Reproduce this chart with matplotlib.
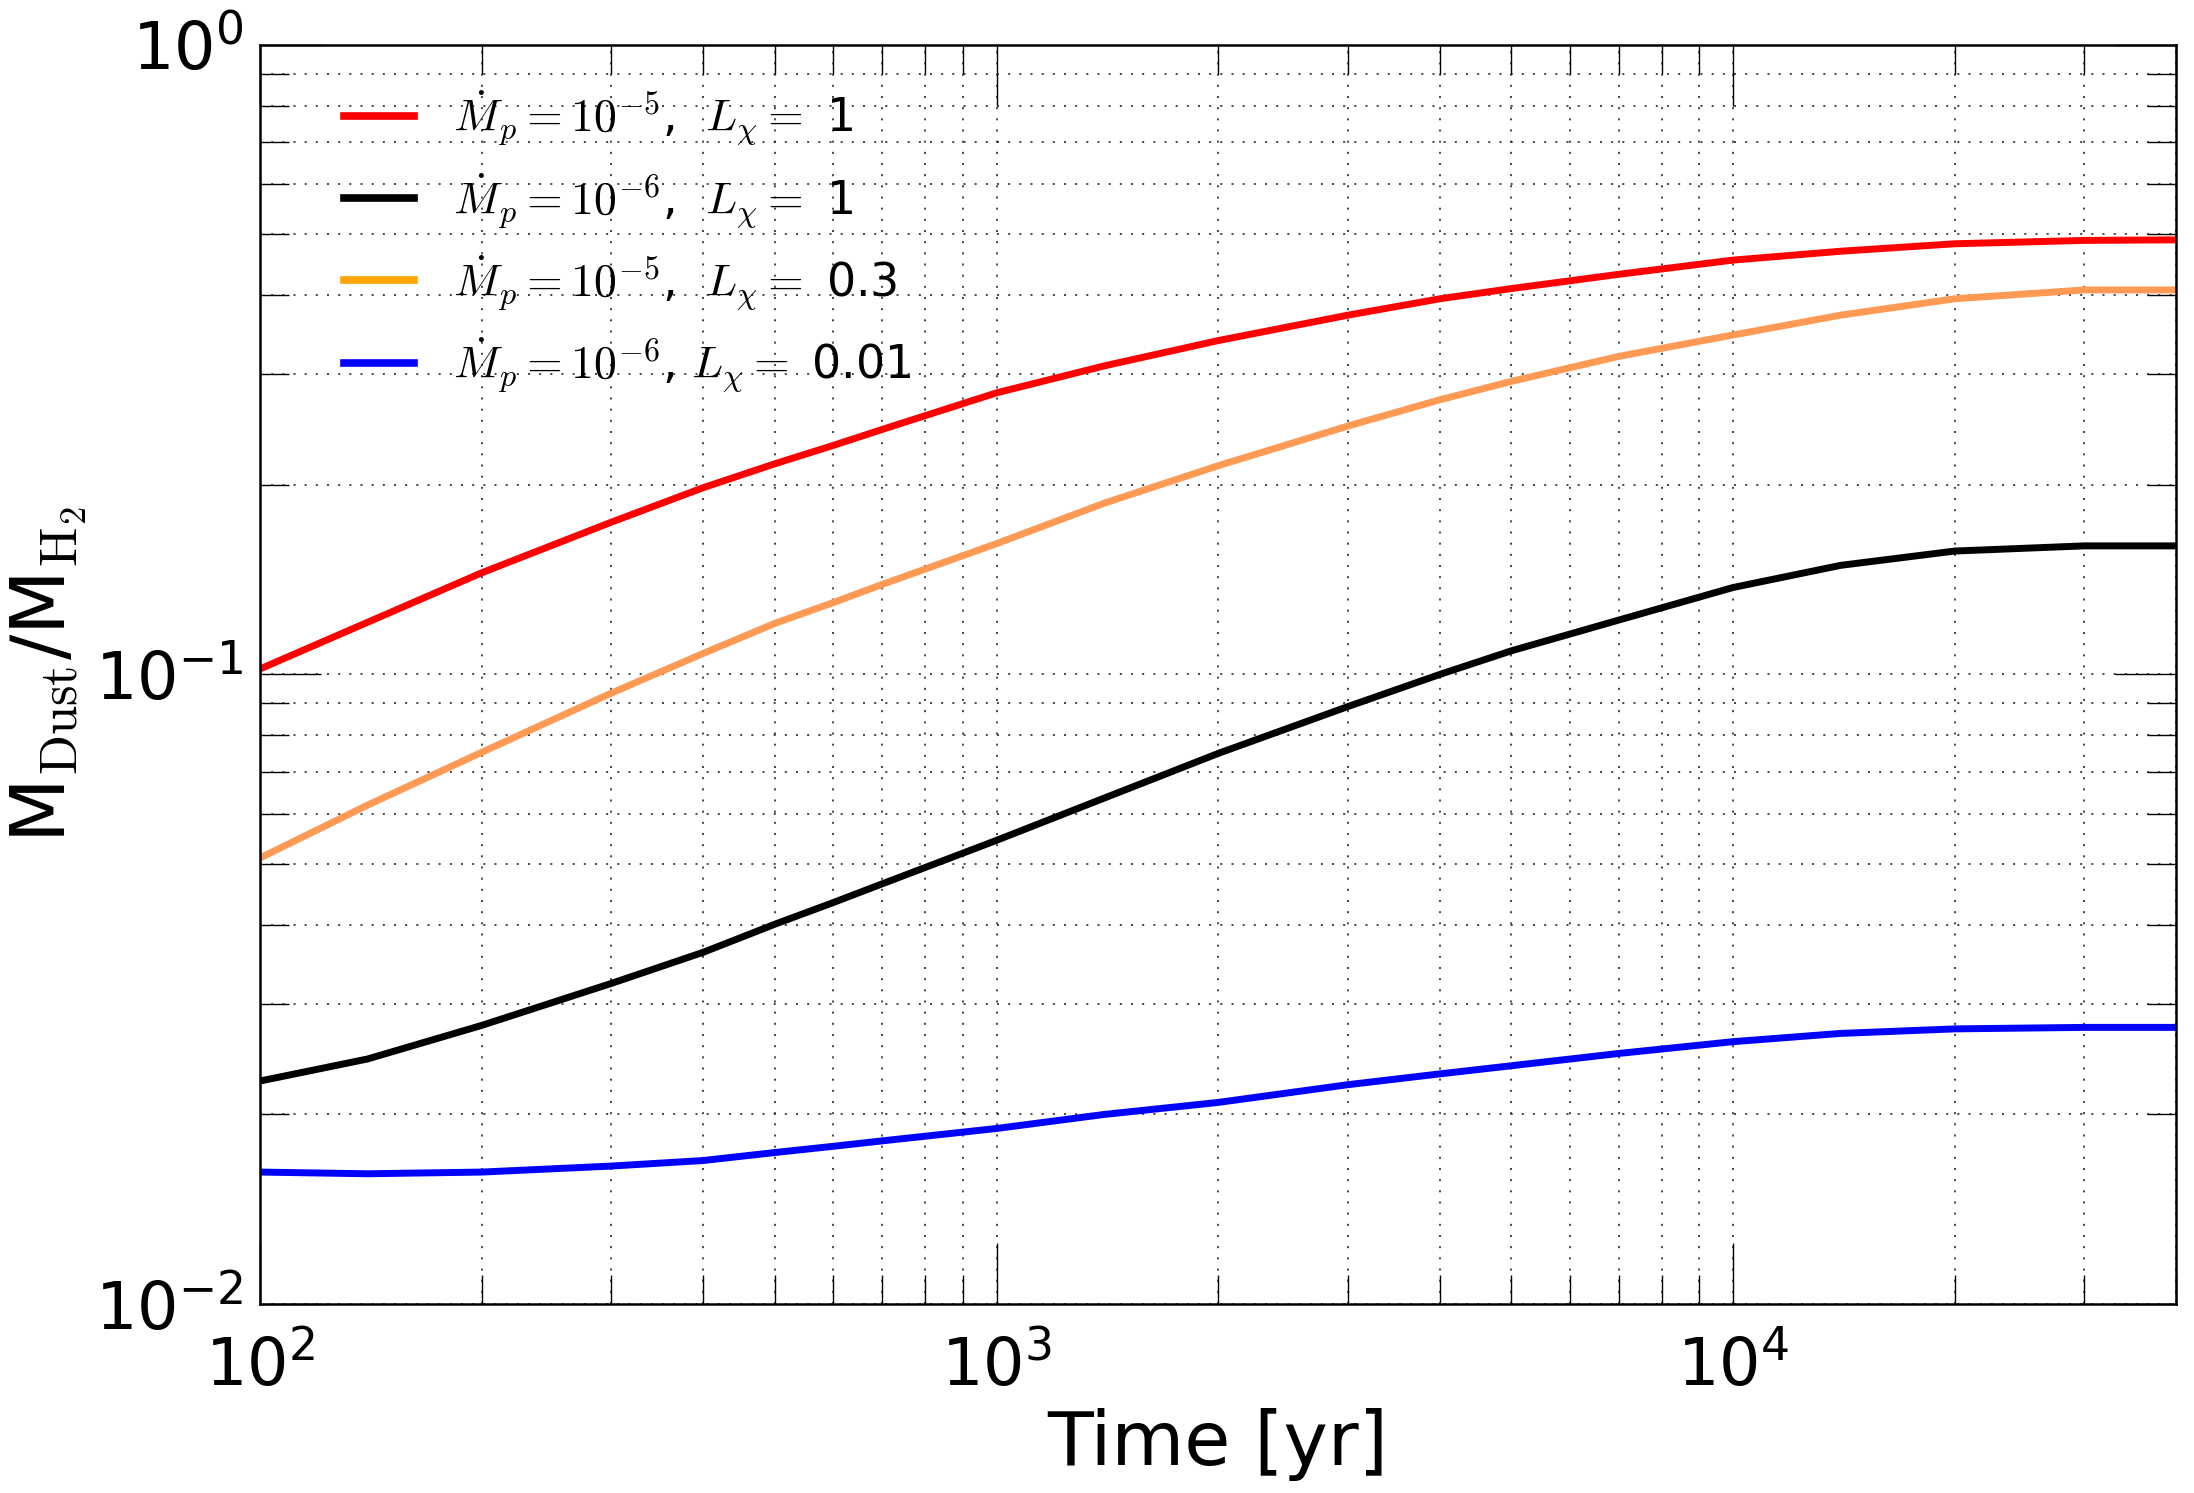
import numpy as np
import matplotlib
matplotlib.use('Agg')
import matplotlib.pyplot as plt
from matplotlib.lines import Line2D
from matplotlib.font_manager import FontProperties

# time grid [yr]
t = [100, 140, 200, 300, 400, 500, 600, 700, 1000, 1400, 2000, 3000, 4000, 5000,
     7000, 10000, 14000, 20000, 30000, 40000]

# dust-to-gas mass ratios
red = [0.102, 0.121, 0.145, 0.1745, 0.198, 0.216, 0.231, 0.245, 0.280, 0.309, 0.339,
       0.372, 0.395, 0.410, 0.432, 0.455, 0.470, 0.483, 0.489, 0.490]
black = [0.0226, 0.0245, 0.0277, 0.0323, 0.0362, 0.0401, 0.0434, 0.0465, 0.0545, 0.0636,
         0.0749, 0.0889, 0.100, 0.109, 0.122, 0.1374, 0.149, 0.157, 0.160, 0.160]
orange = [0.0511, 0.0620, 0.0752, 0.0934, 0.108, 0.1205, 0.130, 0.139, 0.1613, 0.187,
          0.2145, 0.248, 0.273, 0.292, 0.320, 0.346, 0.372, 0.395, 0.408, 0.408]
blue = [0.0162, 0.0161, 0.0162, 0.01656, 0.0169, 0.0174, 0.0178, 0.01816, 0.0190, 0.0200,
        0.0209, 0.0223, 0.0232, 0.0239, 0.0250, 0.0261, 0.0269, 0.02735, 0.0275, 0.0275]

labels = [r'$\dot{M}_p=10^{-5}$,  $L_{\mathrm{\chi}}=$ 1',
          r'$\dot{M}_p=10^{-6}$,  $L_{\mathrm{\chi}}=$ 1',
          r'$\dot{M}_p=10^{-5}$,  $L_{\mathrm{\chi}}=$ 0.3',
          r'$\dot{M}_p=10^{-6}$, $L_{\mathrm{\chi}}=$ 0.01']

fig = plt.figure(figsize=(21.94, 14.93), dpi=100)
ax = fig.add_axes([0.1185, 0.1266, 0.8735, 0.8434])

lw = 5
ax.plot(t, red, color='red', lw=lw)
ax.plot(t, black, color='black', lw=lw)
ax.plot(t, orange, color='#FF9A55', lw=lw)
ax.plot(t, blue, color='blue', lw=lw)

ax.set_xscale('log')
ax.set_yscale('log')
ax.set_xlim(100, 4e4)
ax.set_ylim(1e-2, 1)

ax.grid(True, which='both', color='0.15', lw=1.2, dashes=(1.2, 5.5))
ax.tick_params(which='both', direction='in', top=True, right=True, labelsize=47)
ax.tick_params(axis='x', pad=22)
ax.tick_params(axis='y', pad=12)
ax.tick_params(which='major', length=44, width=1.0)
ax.tick_params(which='minor', length=21, width=1.0)
for s in ax.spines.values():
    s.set_linewidth(1.8)

ax.set_xlabel('Time [yr]', fontsize=54, labelpad=6)
ax.set_ylabel(r'M$_{\rm Dust}$/M$_{\rm H_2}$', fontsize=54, math_fontfamily='cm', labelpad=4)

handles = [Line2D([], [], color=c, lw=5.5) for c in ['red', 'black', 'orange', 'blue']]
ax.legend(handles, labels, loc='upper left', frameon=False,
          bbox_to_anchor=(0.044, 0.965), borderaxespad=0, borderpad=0,
          prop=FontProperties(size=33, math_fontfamily='cm'),
          handlelength=1.53, handletextpad=0.85, labelspacing=0.52)

fig.savefig('out.png', dpi=100)
